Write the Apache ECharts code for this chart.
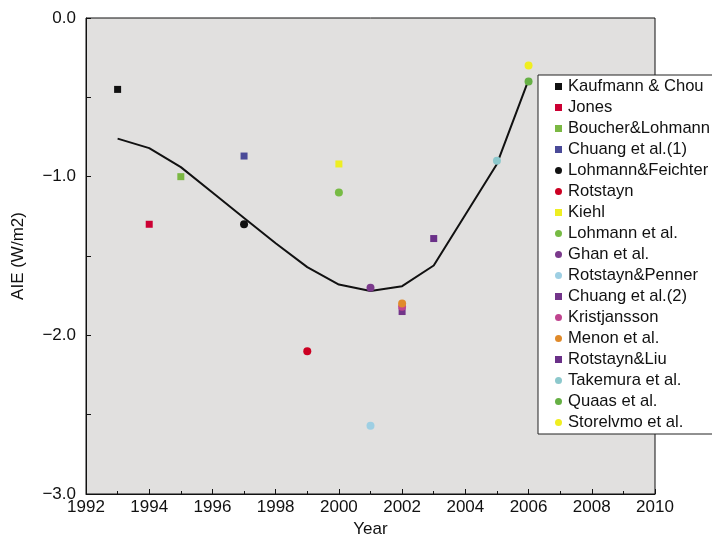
<!DOCTYPE html>
<html>
<head>
<meta charset="utf-8">
<script src="https://cdn.jsdelivr.net/npm/echarts@6/dist/echarts.min.js"></script>
<style>
  html, body { margin: 0; padding: 0; background: #fff; }
  #chart { width: 712px; height: 537px; }
</style>
</head>
<body>
<div id="chart"></div>
<script>
// one point per study
const studyNames = ['Kaufmann & Chou', 'Jones', 'Boucher&Lohmann', 'Chuang et al.(1)', 'Lohmann&Feichter',
  'Rotstayn', 'Kiehl', 'Lohmann et al.', 'Ghan et al.', 'Rotstayn&Penner', 'Chuang et al.(2)',
  'Kristjansson', 'Menon et al.', 'Rotstayn&Liu', 'Takemura et al.', 'Quaas et al.', 'Storelvmo et al.'];
const studyYears = [1993, 1994, 1995, 1997, 1997, 1999, 2000, 2000, 2001, 2001, 2002, 2002, 2002, 2003, 2005, 2006, 2006];
const studyAIE = [-0.45, -1.30, -1.00, -0.87, -1.30, -2.10, -0.92, -1.10, -1.70, -2.57, -1.85, -1.82, -1.80, -1.39, -0.90, -0.40, -0.30];
const studyColors = ['#111111', '#cc0033', '#7bb843', '#4a4a98', '#111111', '#cc0022', '#eeee22', '#77bb44',
  '#7b3a8c', '#9ecfe3', '#73358a', '#c0448f', '#e08a2a', '#6a3088', '#8cc8cc', '#66b044', '#f0ee20'];
const studySymbols = ['rect', 'rect', 'rect', 'rect', 'circle', 'circle', 'rect', 'circle', 'circle',
  'circle', 'rect', 'circle', 'circle', 'rect', 'circle', 'circle', 'circle'];

// running mean line
const fitYears = [1993, 1994, 1995, 1996, 1997, 1998, 1999, 2000, 2001, 2002, 2003, 2004, 2005, 2006];
const fitAIE = [-0.76, -0.82, -0.94, -1.10, -1.26, -1.42, -1.57, -1.68, -1.72, -1.69, -1.56, -1.24, -0.92, -0.39];

const font = '"Liberation Sans", Arial, sans-serif';

let chart = echarts.init(document.getElementById('chart'));

let series = [{
  type: 'line',
  data: fitYears.map((y, i) => [y, fitAIE[i]]),
  showSymbol: false,
  lineStyle: { color: '#111', width: 2 },
  silent: true,
  z: 1
}];
studyNames.forEach((name, i) => {
  series.push({
    name: name,
    type: 'scatter',
    symbol: studySymbols[i],
    symbolSize: studySymbols[i] === 'rect' ? 7 : 8,
    itemStyle: { color: studyColors[i], opacity: 1 },
    data: [[studyYears[i], studyAIE[i]]],
    z: 2 + i
  });
});

let option = {
  animation: false,
  grid: {
    left: 86,
    right: 57,
    top: 18,
    bottom: 43,
    outerBoundsMode: 'none',
    show: true,
    backgroundColor: '#e1e0df',
    borderColor: '#111',
    borderWidth: 1
  },
  legend: {
    orient: 'vertical',
    left: 538,
    top: 75,
    data: studyNames.map((n, i) => ({ name: n, icon: studySymbols[i] })),
    itemWidth: 7,
    itemHeight: 7,
    itemGap: 4,
    padding: [3, 12, 3, 17],
    backgroundColor: '#fff',
    borderColor: '#222',
    borderWidth: 1,
    borderRadius: 0,
    selectedMode: false,
    textStyle: { fontFamily: font, fontSize: 16.6, color: '#111', lineHeight: 16, padding: [0, 0, 0, 1] }
  },
  xAxis: {
    type: 'value',
    min: 1992,
    max: 2010,
    interval: 2,
    name: 'Year',
    nameLocation: 'middle',
    nameGap: 27,
    nameTextStyle: { fontFamily: font, fontSize: 17, color: '#111' },
    axisLine: { show: true, onZero: false, lineStyle: { color: '#111', width: 1 } },
    axisTick: { show: true, inside: true, length: 5, lineStyle: { color: '#111' } },
    minorTick: { show: true, splitNumber: 2, length: 3, lineStyle: { color: '#111' } },
    axisLabel: { fontFamily: font, fontSize: 17, color: '#111', margin: 5, formatter: v => String(v) },
    splitLine: { show: false }
  },
  yAxis: {
    type: 'value',
    min: -3,
    max: 0,
    interval: 0.5,
    name: 'AIE (W/m2)',
    nameLocation: 'middle',
    nameGap: 59,
    nameTextStyle: { fontFamily: font, fontSize: 17, color: '#111' },
    axisLine: { show: true, onZero: false, lineStyle: { color: '#111', width: 1 } },
    axisTick: { show: true, inside: true, length: 5, lineStyle: { color: '#111' } },
    axisLabel: {
      fontFamily: font, fontSize: 17, color: '#111', margin: 10,
      formatter: v => (Math.abs(v % 1) < 1e-9 ? (v === 0 ? '0.0' : '\u2212' + Math.abs(v).toFixed(1)) : '')
    },
    splitLine: { show: false }
  },
  series: series
};

chart.setOption(option);
window.addEventListener('resize', () => {
  chart.resize();
});
</script>
</body>
</html>
